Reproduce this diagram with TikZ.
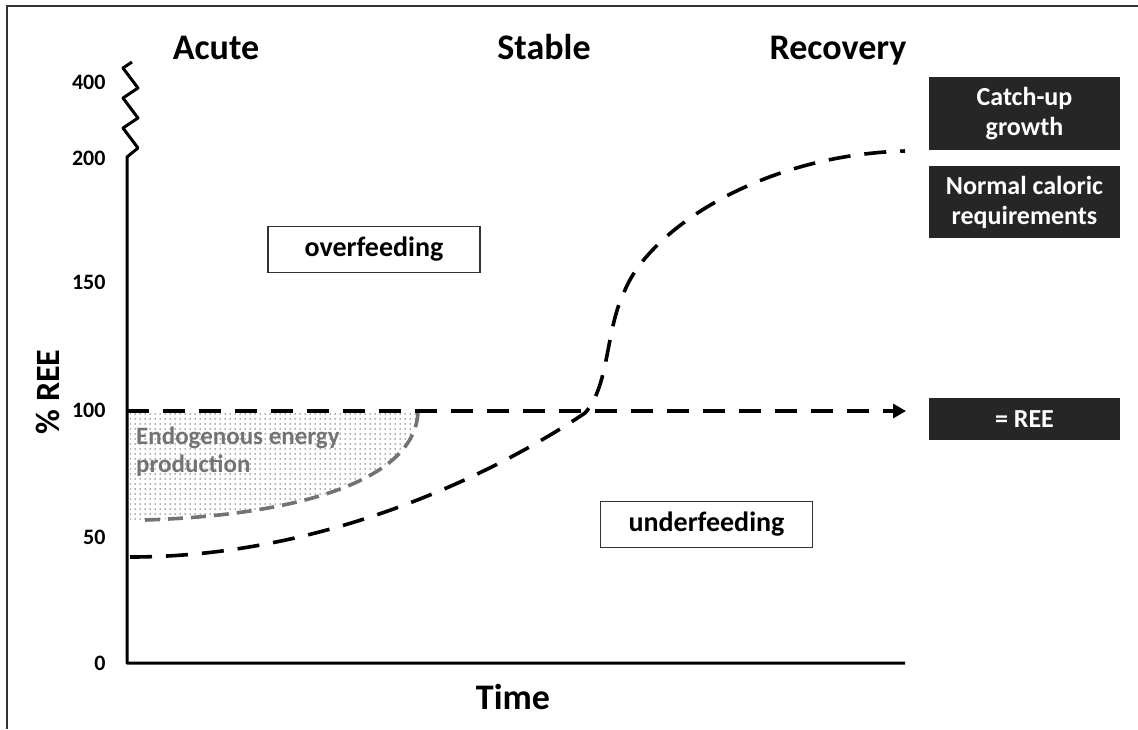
\documentclass[tikz,border=0pt]{standalone}
\usepackage{fontspec}
\setmainfont{Carlito}
\usetikzlibrary{arrows.meta,patterns.meta,positioning}

\begin{document}
\begin{tikzpicture}[x=1pt,y=-1pt,
  phase/.style={font=\bfseries\fontsize{36}{40}\selectfont, anchor=base},
  tick/.style={font=\bfseries\fontsize{22}{24}\selectfont, anchor=east},
  darkbox/.style={fill=black!85, text=white, font=\bfseries\fontsize{26}{30}\selectfont,
    minimum width=191pt, align=center, inner sep=0pt},
  feedbox/.style={draw=black!80, line width=1.2pt, fill=white,
    font=\bfseries\fontsize{28}{32}\selectfont, minimum width=212pt, minimum height=46pt},
  curve/.style={line width=3.6pt, dash pattern=on 22pt off 14pt},
  axis/.style={line width=3pt, line join=round}
]
\useasboundingbox (0,0) rectangle (1138,729);

% Frame
\draw[line width=1.5pt, black!80] (7,729) -- (7,6) -- (1138,6);

% Phase titles
\node[phase] (acute) at (216,59) {Acute};
\node[phase] (stable) at (544,59) {Stable};
\node[phase] (recovery) at (838,59) {Recovery};

% Axes with break
\coordinate (origin) at (127,663);
\coordinate (xend) at (905,663);
\draw[axis] (132,62) -- (123,68) -- (138,88) -- (123,98) -- (138,118) -- (123,128)
  -- (138,148) -- (127,157) -- (origin) -- (xend);

% Tick labels
\node[tick] (t400) at (109,82) {400};
\node[tick] (t200) at (109,158) {200};
\node[tick] (t150) at (109,282) {150};
\node[tick] (t100) at (109,410) {100};
\node[tick] (t50) at (109,537) {50};
\node[tick] (t0) at (109,663) {0};

% Axis labels
\node[rotate=90, font=\bfseries\fontsize{34}{38}\selectfont] (ylab) at (48,392) {\% REE};
\node[font=\bfseries\fontsize{36}{40}\selectfont] (xlab) at (513,697) {Time};

% Endogenous energy production (dotted area)
\fill[pattern={Dots[distance=5pt,radius=0.75pt]}, pattern color=black!65] (130,411) -- (418,411)
  .. controls (415,480) and (300,515) .. (145,520) -- (130,520) -- cycle;
\draw[line width=3.6pt, black!55, dash pattern=on 15pt off 8pt]
  (145,520) .. controls (300,515) and (415,480) .. (418,412);
\node[anchor=north west, align=left, text=black!55, inner sep=0pt,
  font=\bfseries\fontsize{25}{28}\selectfont] (endo) at (136,427)
  {Endogenous energy\\production};

% 100% REE line
\coordinate (ree0) at (127,411);
\coordinate (reeend) at (906,411);
\draw[curve, -{Triangle[length=13pt,width=14pt]}] (ree0) -- (reeend);

% Requirement curve
\draw[curve] (130,557) .. controls (330,557) and (500,470) .. (585,413)
  .. controls (610,385) and (605,330) .. (625,290)
  .. controls (650,230) and (760,155) .. (905,151);

% Feeding boxes
\node[feedbox] (over) at (374,249.5) {overfeeding};
\node[feedbox] (under) at (706.5,524.5) {underfeeding};

% Right side boxes
\node[darkbox, minimum height=73pt] (catchup) at (1024.5,113.5) {Catch-up\\growth};
\node[darkbox, minimum height=72pt] (normal) at (1024.5,202) {Normal caloric\\requirements};
\node[darkbox, minimum height=42pt] (ree) at (1024.5,419) {= REE};

\end{tikzpicture}
\end{document}
